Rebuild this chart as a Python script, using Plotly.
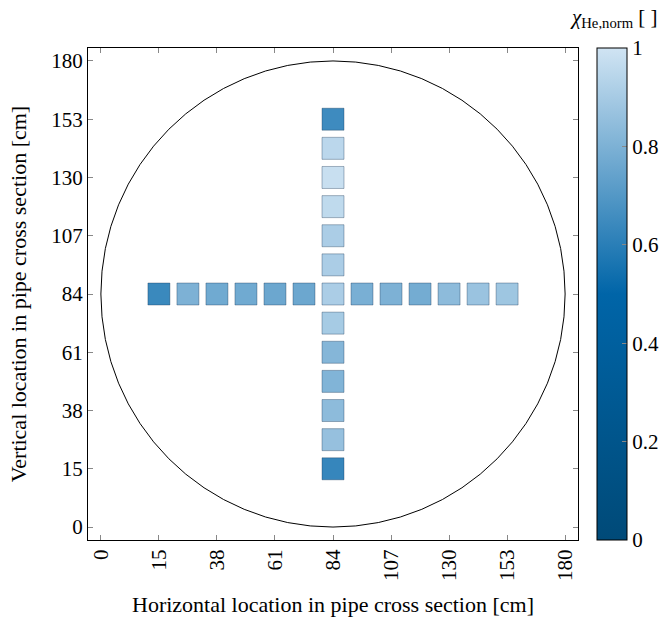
import plotly.graph_objects as go

# ---- data ----
tick_vals = [0, 22.5, 45, 67.5, 90, 112.5, 135, 157.5, 180]
tick_text = ["0", "15", "38", "61", "84", "107", "130", "153", "180"]

# horizontal traverse (y = 90)
h_x = [22.5, 33.75, 45, 56.25, 67.5, 78.75, 90, 101.25, 112.5, 123.75, 135, 146.25, 157.5]
h_y = [90] * 13
h_val = [0.64, 0.80, 0.77, 0.77, 0.76, 0.76, 0.91, 0.79, 0.80, 0.78, 0.84, 0.87, 0.88]

# vertical traverse (x = 90), centre point shared with horizontal
v_x = [90] * 12
v_y = [157.5, 146.25, 135, 123.75, 112.5, 101.25, 78.75, 67.5, 56.25, 45, 33.75, 22.5]
v_val = [0.65, 0.95, 0.98, 0.96, 0.91, 0.91, 0.90, 0.82, 0.81, 0.84, 0.86, 0.63]

pipe_diameter = 180

colorscale = [
    [0.0, "rgb(0,74,120)"],
    [0.5, "rgb(0,101,168)"],
    [1.0, "rgb(208,228,243)"],
]

font_family = "'Liberation Serif', 'DejaVu Serif', serif"

xs = h_x + v_x
ys = h_y + v_y
vals = h_val + v_val

fig = go.Figure()
fig.add_trace(go.Scatter(
    x=xs, y=ys, mode="markers",
    marker=dict(
        symbol="square", size=22, color=vals, colorscale=colorscale,
        cmin=0, cmax=1,
        line=dict(color="rgba(20,50,80,0.35)", width=1),
        colorbar=dict(
            x=1.0388, xanchor="left", xpad=0, ypad=0,
            y=0.5, yanchor="middle", len=1, lenmode="fraction",
            thickness=30, outlinecolor="black", outlinewidth=1,
            tickvals=[0, 0.2, 0.4, 0.6, 0.8, 1],
            ticktext=["0", "0.2", "0.4", "0.6", "0.8", "1"],
            ticks="inside", ticklen=5, tickcolor="#888",
            tickfont=dict(family=font_family, size=21, color="black"),
        ),
    ),
    showlegend=False, hoverinfo="skip",
))

fig.add_shape(type="circle", xref="x", yref="y",
              x0=0, y0=0, x1=pipe_diameter, y1=pipe_diameter,
              line=dict(color="black", width=1), layer="below")

axis_common = dict(
    range=[-5, 185], tickvals=tick_vals, ticktext=tick_text,
    showgrid=False, zeroline=False, showline=True, linecolor="black",
    linewidth=1, mirror="ticks", ticks="inside", ticklen=5, tickcolor="#888",
    tickfont=dict(family=font_family, size=21, color="black"),
)

fig.update_layout(
    width=668, height=617,
    margin=dict(l=88, r=90, t=48, b=77, autoexpand=False),
    paper_bgcolor="white", plot_bgcolor="white",
    font=dict(family=font_family, size=21, color="black"),
    xaxis=dict(**axis_common, tickangle=-90,
               title=dict(text="Horizontal location in pipe cross section [cm]",
                          font=dict(family=font_family, size=22), standoff=18)),
    yaxis=dict(**axis_common,
               title=dict(text="Vertical location in pipe cross section [cm]",
                          font=dict(family=font_family, size=22), standoff=18)),
    annotations=[dict(
        xref="paper", yref="paper", x=1.167, y=1.061,
        xanchor="right", yanchor="middle", showarrow=False,
        text="<i>χ</i><sub>He,norm</sub> [ ]",
        font=dict(family=font_family, size=21, color="black"),
    )],
)

fig.write_html("out.html", config={"displayModeBar": False},
               post_script="document.body.style.margin='0px';")
